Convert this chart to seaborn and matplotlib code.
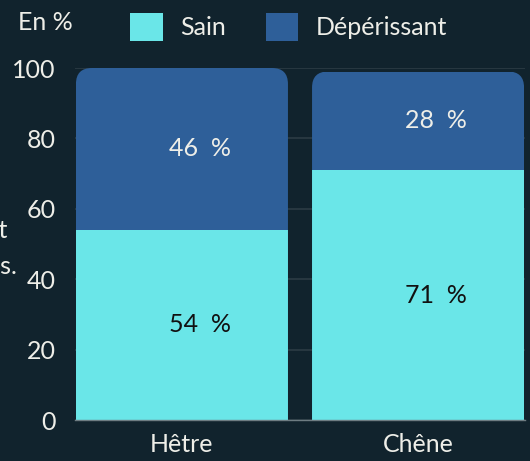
import matplotlib
matplotlib.use("Agg")
import matplotlib.pyplot as plt
import seaborn as sns
import pandas as pd
from matplotlib.patches import FancyBboxPatch, Patch
from matplotlib.transforms import IdentityTransform

categories = ["Hêtre", "Chêne"]
sain = [54, 71]
deperissant = [46, 28]
yticks = [0, 20, 40, 60, 80, 100]
series_names = ["Sain", "Dépérissant"]

BG = "#11232d"
CYAN = "#6ae6e8"
BLUE = "#2e5f99"
TXT = "#eeeee8"
GRID = "#2c3c44"
FONT = "Lato"
FS = 18

sns.set_theme(style="dark")
plt.rcParams["font.family"] = [FONT, "DejaVu Sans"]

W, H = 530, 461
fig = plt.figure(figsize=(W / 100, H / 100), dpi=100, facecolor=BG)
ax = fig.add_axes([75 / W, 1 - 420 / H, (525 - 75) / W, (420 - 68) / H])
ax.set_facecolor(BG)

df = pd.DataFrame({
    "cat": categories,
    "sain": sain,
    "dep": deperissant,
})
df["total"] = df["sain"] + df["dep"]

sns.barplot(data=df, x="cat", y="total", color=BLUE, width=0.898,
            saturation=1, ax=ax, order=categories, linewidth=0)
sns.barplot(data=df, x="cat", y="sain", color=CYAN, width=0.898,
            saturation=1, ax=ax, order=categories, linewidth=0)

ax.set_xlim(-0.453, 1.453)
ax.set_ylim(0, 100)
ax.set_yticks(yticks)
ax.set_xlabel("")
ax.set_ylabel("")
ax.set_axisbelow(True)
ax.grid(axis="y", color=GRID, linewidth=1.2)
ax.grid(axis="x", visible=False)
for s in ["left", "right", "top"]:
    ax.spines[s].set_visible(False)
ax.spines["bottom"].set_color("#6e7c82")
ax.spines["bottom"].set_linewidth(1)
ax.tick_params(axis="y", length=0, pad=14, labelsize=FS, labelcolor=TXT)
ax.tick_params(axis="x", length=0, pad=9, labelsize=FS, labelcolor=TXT)

# rounded top corners via clip paths in display coordinates
patches = list(ax.patches)
n = len(categories)
tot_patches = patches[:n]
sain_patches = patches[n:2 * n]
for i in range(n):
    p = tot_patches[i]
    x0 = p.get_x()
    w = p.get_width()
    top = p.get_height()
    (dx0, dy0) = ax.transData.transform((x0, 0))
    (dx1, dy1) = ax.transData.transform((x0 + w, top))
    clip = FancyBboxPatch((dx0, dy0 - 40), dx1 - dx0, (dy1 - dy0) + 40,
                          boxstyle="round,pad=0,rounding_size=16",
                          transform=IdentityTransform(), facecolor="none",
                          edgecolor="none")
    p.set_clip_path(clip)
    sain_patches[i].set_clip_path(clip)

# value labels
for i in range(n):
    ax.text(i + 0.075, sain[i] / 2, f"{sain[i]}  %", ha="center", va="center",
            fontsize=FS, color="#111111")
    ax.text(i + 0.075, sain[i] + deperissant[i] / 2, f"{deperissant[i]}  %",
            ha="center", va="center", fontsize=FS, color=TXT)

# header
fig.text(18 / W, 1 - 22 / H, "En %", ha="left", va="center",
         fontsize=FS, color=TXT)
handles = [Patch(facecolor=CYAN, edgecolor="none"),
           Patch(facecolor=BLUE, edgecolor="none")]
fig.legend(handles, series_names, loc="center left",
           bbox_to_anchor=(130 / W, 1 - 27 / H), ncol=2, frameon=False,
           fontsize=FS, labelcolor=TXT, handlelength=1.3, handleheight=1.3,
           handletextpad=0.7, columnspacing=1.6, borderpad=0, borderaxespad=0)

# partially cut-off side note (cut off in the reference too)
fig.text(7 / W, 1 - 230 / H, "état", ha="right", va="center",
         fontsize=FS, color=TXT)
fig.text(17 / W, 1 - 266 / H, "forêts.", ha="right", va="center",
         fontsize=FS, color=TXT)

fig.savefig("out.png", dpi=100, facecolor=BG)
